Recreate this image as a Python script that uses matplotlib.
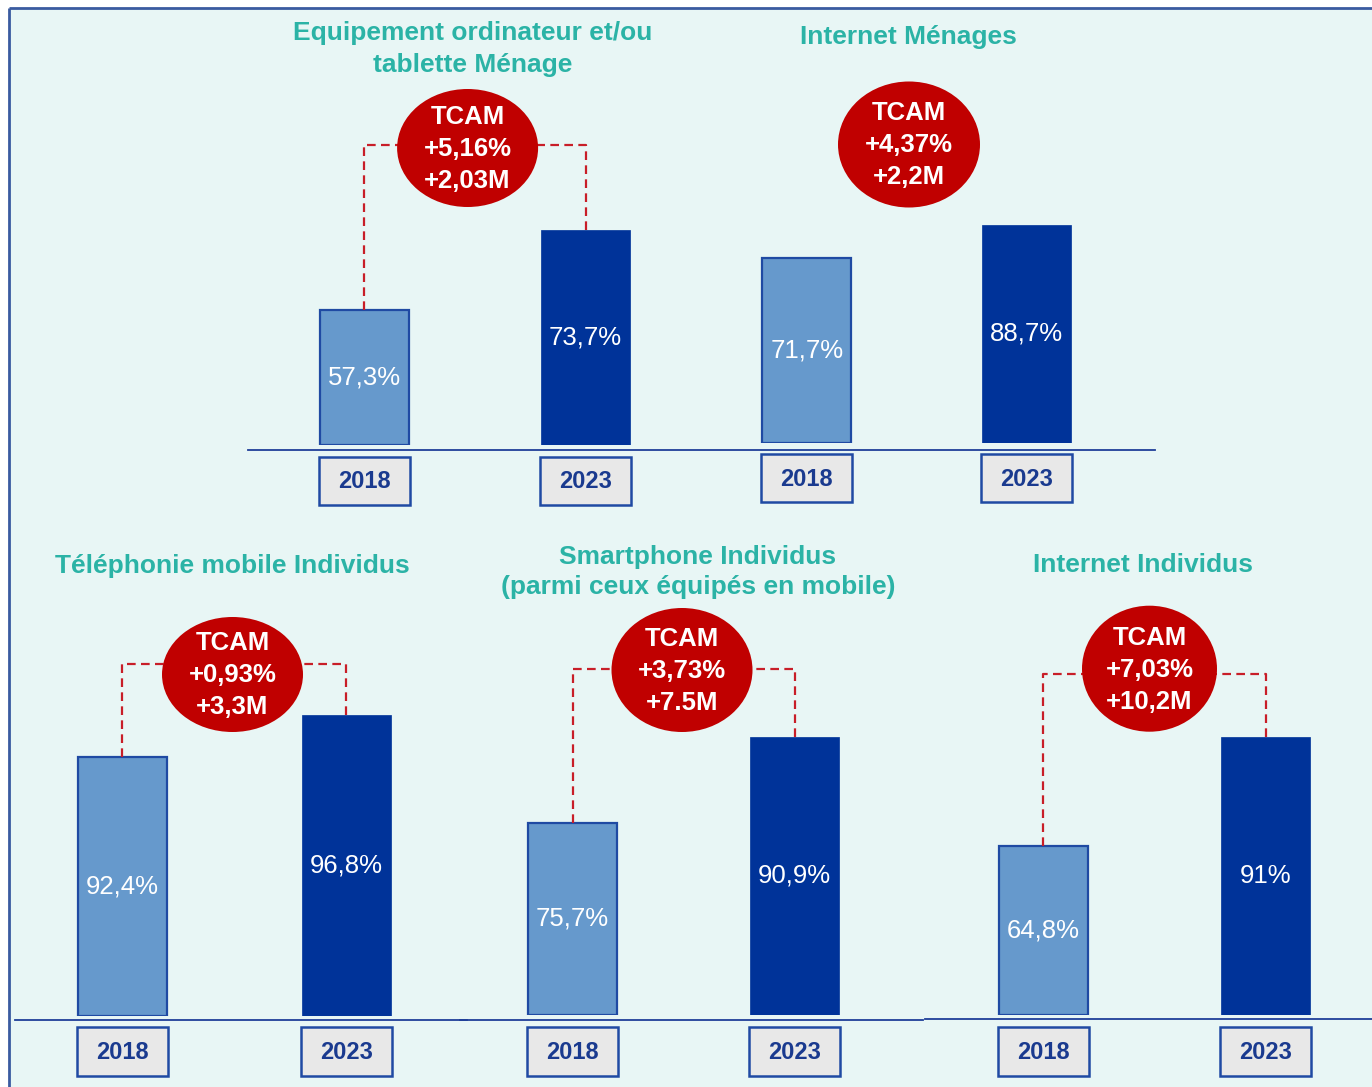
import matplotlib
matplotlib.use("Agg")
import matplotlib.pyplot as plt
from matplotlib.patches import Ellipse, Rectangle

plt.rcParams['font.family'] = ['Liberation Sans', 'DejaVu Sans']

# ---- data ----
titles = ["Equipement ordinateur et/ou\ntablette Ménage",
          "Internet Ménages",
          "Téléphonie mobile Individus",
          "Smartphone Individus\n(parmi ceux équipés en mobile)",
          "Internet Individus"]
years = ["2018", "2023"]
values_2018 = [57.3, 71.7, 92.4, 75.7, 64.8]
values_2023 = [73.7, 88.7, 96.8, 90.9, 91.0]
tcam = ["+5,16%", "+4,37%", "+0,93%", "+3,73%", "+7,03%"]
gain = ["+2,03M", "+2,2M", "+3,3M", "+7.5M", "+10,2M"]
linked = [True, False, True, True, True]

# ---- layout (pixels, y from top) ----
W, H = 1372, 1087
bar_centers = [(364, 585.5), (806.7, 1026.4), (122.5, 346.5), (572.5, 794.5), (1043, 1265.7)]
bar_bottom = [445, 442.5, 1016, 1014.5, 1015]
y_floor = [29.6, -24.4, 65.0, 41.9, 24.0]
px_per_unit = [4.88, 1.92, 9.45, 5.66, 4.15]
bubbles = [(467.6, 148, 141, 118), (909, 144.5, 142, 126), (232.5, 674.5, 141, 115),
           (682, 670, 141, 124), (1149.5, 668.7, 135, 126)]
link_y = [145, None, 664, 668.5, 674]
title_x = [472.5, 908.8, 232, 698, 1142.7]
title_y = [(33.3, 65), (37.3,), (565.5,), (556.6, 586.8), (565.5,)]
title_size = [19, 19, 19, 19, 19]
box_y = [(457, 505), (454, 502), (1027, 1076), (1027, 1076), (1027, 1076)]
baselines = [(248, 1155, 449.5), (15, 467, 1020), (460, 923, 1020), (925, 1372, 1018.5)]

TEAL = "#2BB3A6"
LIGHT = "#6699CC"
DARK = "#003399"
EDGE = "#1F4AA3"
RED = "#C00000"
DASH = "#C81E28"

fig = plt.figure(figsize=(W / 100, H / 100), dpi=100)
fig.patch.set_facecolor("white")

bg = fig.add_axes([0, 0, 1, 1], zorder=0)
bg.set_xlim(0, W)
bg.set_ylim(H, 0)
bg.axis("off")
bg.add_patch(Rectangle((9, 8.3), W - 9, H - 8.3, fc="#E8F6F5", ec="none"))
bg.plot([9, W], [8.3, 8.3], color="#3A5BA0", lw=2, solid_capstyle="butt")
bg.plot([9, 9], [8.3, H], color="#3A5BA0", lw=2, solid_capstyle="butt")

ov = fig.add_axes([0, 0, 1, 1], zorder=3)
ov.set_xlim(0, W)
ov.set_ylim(H, 0)
ov.axis("off")

for x0, x1, y in baselines:
    ov.plot([x0, x1], [y, y], color="#1F3F99", lw=1.3)

for i in range(5):
    c1, c2 = bar_centers[i]
    span = c2 - c1
    left = c1 - 0.6 * span
    right = c2 + 0.6 * span
    h_px = 400
    lo = y_floor[i]
    ax = fig.add_axes([left / W, 1 - bar_bottom[i] / H, (right - left) / W, h_px / H], zorder=1)
    ax.set_xlim(-0.6, 1.6)
    ax.set_ylim(lo, lo + h_px / px_per_unit[i])
    ax.axis("off")

    vals = [values_2018[i], values_2023[i]]
    w = 89 / span
    ax.bar([0], [vals[0] - lo], bottom=lo, width=w, color=LIGHT, edgecolor=EDGE, linewidth=1.6)
    ax.bar([1], [vals[1] - lo], bottom=lo, width=w, color=DARK, edgecolor=DARK, linewidth=0.5)
    for j, v in enumerate(vals):
        lab = f"{v:g}".replace(".", ",") + "%"
        ax.text(j, (v + lo) / 2, lab, ha="center", va="center", color="white", fontsize=18.5)

    # bar tops / centres in pixel coordinates
    tops = []
    for j, v in enumerate(vals):
        dx, dy = ax.transData.transform((j, v))
        tops.append((dx, H - dy))

    ex, ey, ew, eh = bubbles[i]
    if linked[i]:
        ly = link_y[i]
        for (bx, by) in tops:
            ov.plot([bx, bx, ex], [by, ly, ly], color=DASH, lw=1.6,
                    linestyle=(0, (3.9, 2.4)), zorder=2)
    ov.add_patch(Ellipse((ex, ey), ew, eh, fc=RED, ec="none", zorder=4))
    for k, txt in enumerate(["TCAM", tcam[i], gain[i]]):
        ov.text(ex, ey + (k - 1) * 32 + 1, txt, ha="center", va="center", color="white",
                fontsize=18.5, fontweight="bold", zorder=5)

    y0, y1 = box_y[i]
    for j, (bx, by) in enumerate(tops):
        ov.add_patch(Rectangle((bx - 45.5, y0), 91, y1 - y0, fc="#E8E8E8", ec=EDGE, lw=1.8, zorder=4))
        ov.text(bx, (y0 + y1) / 2 + 1, years[j], ha="center", va="center", color="#1A3A8F",
                fontsize=17, fontweight="bold", zorder=5)

    for line, ty in zip(titles[i].split("\n"), title_y[i]):
        ov.text(title_x[i], ty, line, ha="center", va="center", color=TEAL,
                fontsize=title_size[i], fontweight="bold")

fig.savefig("out.png", dpi=100)
